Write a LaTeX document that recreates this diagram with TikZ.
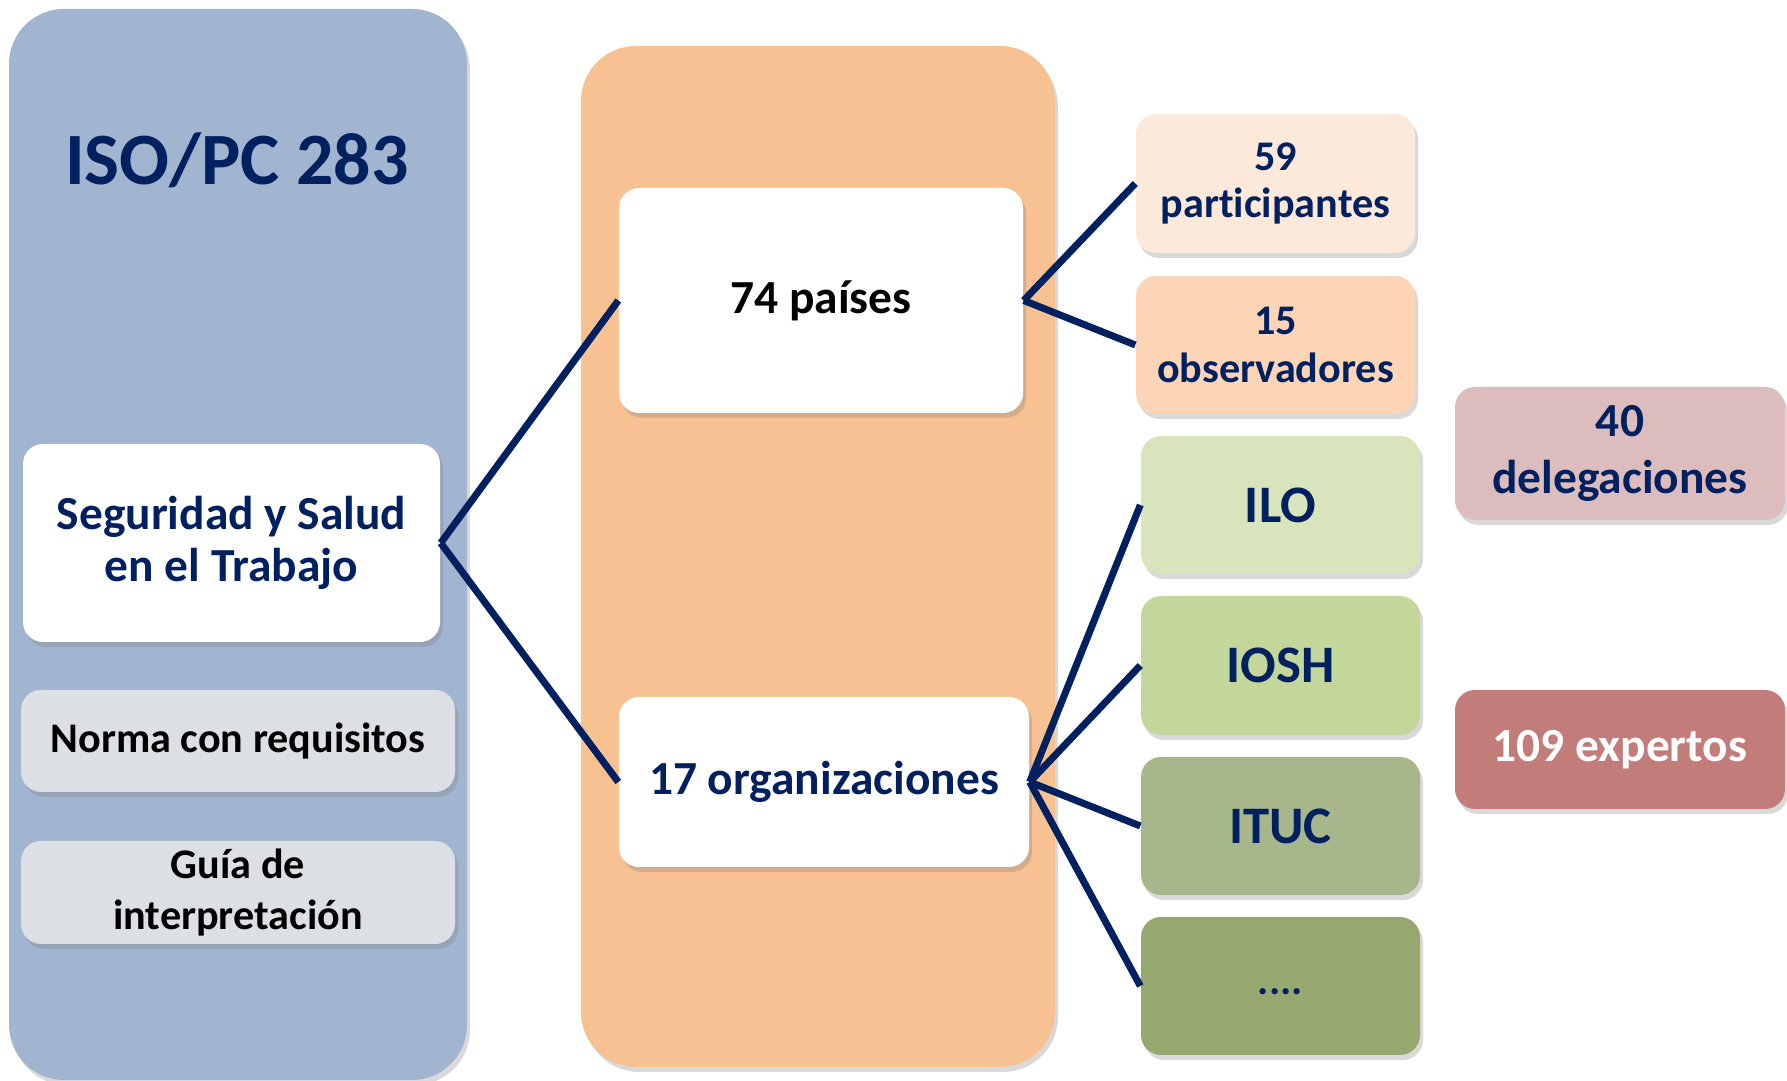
\documentclass[tikz,border=0pt]{standalone}
\usepackage{fontspec}
\setmainfont{Carlito}[RawFeature={-liga;-clig;-calt;-dlig}]
\usetikzlibrary{shadows}
\definecolor{navy}{HTML}{002060}
\definecolor{isoblue}{HTML}{A1B5D0}
\definecolor{orgorange}{HTML}{F8C191}
\definecolor{greybox}{HTML}{DCDFE4}
\definecolor{partcol}{HTML}{FDE9D9}
\definecolor{obscol}{HTML}{FBD5B5}
\definecolor{ilocol}{HTML}{D8E4BC}
\definecolor{ioshcol}{HTML}{C4D79B}
\definecolor{ituccol}{HTML}{A8B68C}
\definecolor{morecol}{HTML}{96A870}
\definecolor{delegcol}{HTML}{DCBCBC}
\definecolor{expcol}{HTML}{C27C7A}
\begin{document}
\begin{tikzpicture}[
    panel/.style={rounded corners=0.55cm, inner sep=0pt,
        drop shadow={opacity=0.3, shadow xshift=0.03cm, shadow yshift=-0.05cm}},
    box/.style={rounded corners=0.2cm, inner sep=0pt, align=center, text=navy,
        drop shadow={opacity=0.3, shadow xshift=0.03cm, shadow yshift=-0.05cm}},
    link/.style={draw=navy, line width=2pt}
]
\useasboundingbox (0,0) rectangle (17.87,10.81);
% the two big panels
\node[panel, fill=isoblue, minimum width=4.58cm, minimum height=10.71cm] (iso) at (2.38,5.365) {};
\node[panel, fill=orgorange, minimum width=4.74cm, minimum height=10.21cm] (members) at (8.18,5.245) {};
\node[text=navy, font=\fontsize{21}{25}\selectfont\bfseries] (title) at (2.37,9.21) {ISO/PC 283};
% left column
\node[box, fill=white, minimum width=4.17cm, minimum height=1.98cm,
    font=\fontsize{13.5}{14.7}\selectfont\bfseries] (sst) at (2.315,5.38) {Seguridad y Salud\\en el Trabajo};
\node[box, fill=greybox, text=black, minimum width=4.34cm, minimum height=1.02cm,
    font=\fontsize{12}{14.3}\selectfont\bfseries] (norma) at (2.38,3.40) {Norma con requisitos};
\node[box, fill=greybox, text=black, minimum width=4.34cm, minimum height=1.03cm,
    font=\fontsize{12}{14.3}\selectfont\bfseries] (guia) at (2.38,1.885) {Guía de\\interpretación};
% middle column
\node[box, fill=white, text=black, minimum width=4.04cm, minimum height=2.25cm,
    font=\fontsize{13.5}{16}\selectfont\bfseries] (paises) at (8.21,7.805) {74 países};
\node[box, fill=white, minimum width=4.10cm, minimum height=1.70cm,
    font=\fontsize{13.5}{16}\selectfont\bfseries] (orgs) at (8.24,2.99) {17 organizaciones};
% right column
\node[box, fill=partcol, minimum width=2.79cm, minimum height=1.39cm,
    font=\fontsize{12}{13.4}\selectfont\bfseries] (part) at (12.755,8.975) {59\\participantes};
\node[box, fill=obscol, minimum width=2.79cm, minimum height=1.38cm,
    font=\fontsize{12}{13.4}\selectfont\bfseries] (obs) at (12.755,7.36) {15\\observadores};
\node[box, fill=ilocol, minimum width=2.79cm, minimum height=1.38cm,
    font=\fontsize{15}{18}\selectfont\bfseries] (ilo) at (12.805,5.76) {ILO};
\node[box, fill=ioshcol, minimum width=2.79cm, minimum height=1.39cm,
    font=\fontsize{15}{18}\selectfont\bfseries] (iosh) at (12.805,4.155) {IOSH};
\node[box, fill=ituccol, minimum width=2.79cm, minimum height=1.38cm,
    font=\fontsize{15}{18}\selectfont\bfseries] (ituc) at (12.805,2.55) {ITUC};
\node[box, fill=morecol, minimum width=2.79cm, minimum height=1.38cm,
    font=\fontsize{12}{14}\selectfont\bfseries] (more) at (12.805,0.95) {\smash{\raisebox{-0.4ex}{....}}};
\node[box, fill=delegcol, minimum width=3.30cm, minimum height=1.33cm,
    font=\fontsize{13.5}{16.2}\selectfont\bfseries] (deleg) at (16.20,6.275) {40\\delegaciones};
\node[box, fill=expcol, text=white, minimum width=3.30cm, minimum height=1.19cm,
    font=\fontsize{13.5}{16}\selectfont\bfseries] (expertos) at (16.20,3.315) {109 expertos};
% connectors
\draw[link] (sst.east) -- (paises.west);
\draw[link] (sst.east) -- (orgs.west);
\draw[link] (paises.east) -- (part.west);
\draw[link] (paises.east) -- (obs.west);
\foreach \n in {ilo,iosh,ituc,more}
    \draw[link] (orgs.east) -- (\n.west);
\end{tikzpicture}
\end{document}
